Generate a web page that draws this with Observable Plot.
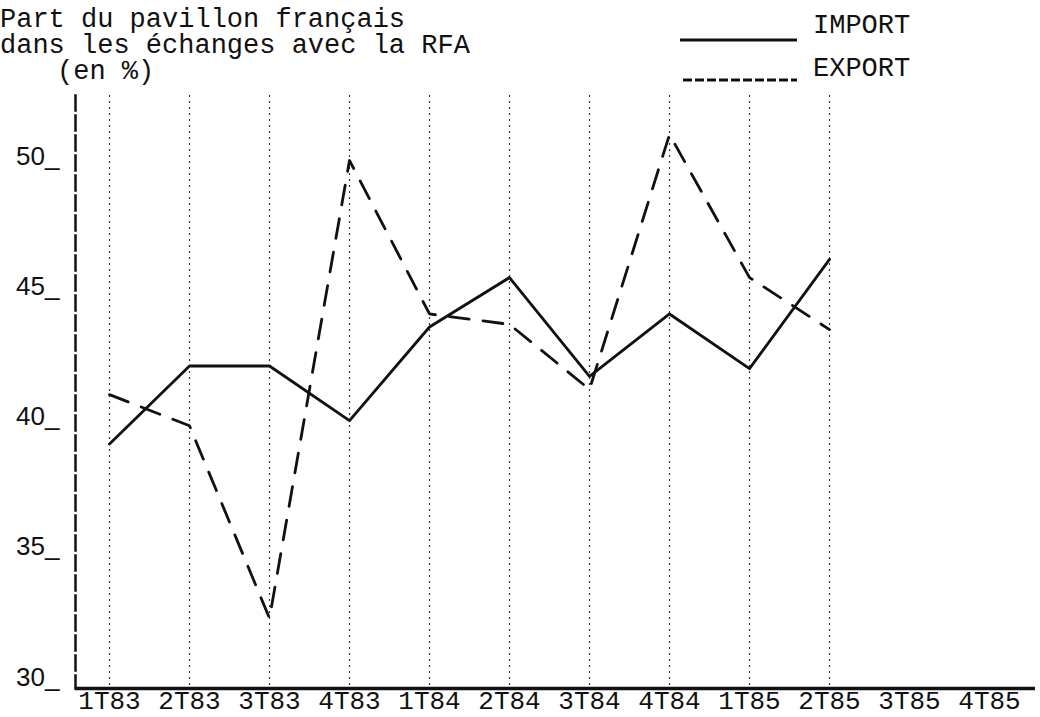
<!DOCTYPE html>
<html>
<head>
<meta charset="utf-8">
<script src="https://cdn.jsdelivr.net/npm/d3@7"></script>
<script src="https://cdn.jsdelivr.net/npm/@observablehq/plot@0.6"></script>
<style>
  html, body { margin: 0; padding: 0; background: #fff; }
  #wrap { position: relative; width: 1040px; height: 717px; overflow: hidden; }
  #overlay { position: absolute; left: 0; top: 0; pointer-events: none; }
  #overlay text { font-family: "Liberation Mono", "DejaVu Sans Mono", monospace; font-size: 27px; fill: #111; }
</style>
</head>
<body>
<div id="wrap">
  <div id="chart"></div>
  <svg id="overlay" width="1040" height="120">
    <text x="0" y="27">Part du pavillon français</text>
    <text x="0" y="53">dans les échanges avec la RFA</text>
    <text x="57" y="79">(en %)</text>
    <line x1="680" x2="797" y1="40" y2="40" stroke="#111" stroke-width="3"></line>
    <text x="813" y="33">IMPORT</text>
    <line x1="683" x2="797" y1="80" y2="80" stroke="#111" stroke-width="3" stroke-dasharray="9,3"></line>
    <text x="813" y="76">EXPORT</text>
  </svg>
</div>
<script>
// Categories (quarters)
const quarters = ["1T83","2T83","3T83","4T83","1T84","2T84","3T84","4T84","1T85","2T85","3T85","4T85"];
// Quarters with data
const dataQuarters = ["1T83","2T83","3T83","4T83","1T84","2T84","3T84","4T84","1T85","2T85"];
// Series values (% share of French flag)
const importValues = [39.4, 42.4, 42.4, 40.3, 43.9, 45.8, 42.0, 44.4, 42.3, 46.5];
const exportValues = [41.3, 40.1, 32.7, 50.3, 44.4, 44.0, 41.5, 51.3, 45.8, 43.8];
// Y tick labels
const yTicks = [30, 35, 40, 45, 50];
const yDomain = [30, 52.8];

const importData = dataQuarters.map((q, i) => ({quarter: q, value: importValues[i]}));
const exportData = dataQuarters.map((q, i) => ({quarter: q, value: exportValues[i]}));

const chart = Plot.plot({
  width: 1040,
  height: 717,
  marginLeft: 75,
  marginRight: 5,
  marginTop: 95,
  marginBottom: 29,
  style: {fontFamily: "Liberation Mono, DejaVu Sans Mono, monospace", fontSize: "26px", color: "#111", background: "#fff"},
  x: {type: "point", domain: quarters, range: [107, 990], padding: 0},
  y: {domain: yDomain},
  marks: [
    Plot.ruleX(dataQuarters, {stroke: "#333", strokeWidth: 1.2, strokeDasharray: "2,4"}),
    Plot.frame({anchor: "left", stroke: "#111", strokeWidth: 2.5, strokeDasharray: "15,5"}),
    Plot.ruleY([30], {stroke: "#111", strokeWidth: 3.5}),
    Plot.line(importData, {x: "quarter", y: "value", stroke: "#111", strokeWidth: 2.8}),
    Plot.line(exportData, {x: "quarter", y: "value", stroke: "#111", strokeWidth: 2.8, strokeDasharray: "20,14"}),
    Plot.axisX({ticks: quarters, tickSize: 0, tickPadding: 2, fontSize: 26, label: null}),
    Plot.axisY({ticks: yTicks, tickSize: 0, tickPadding: 16, tickFormat: d => d + "_", fontFamily: "Liberation Sans, Arial, sans-serif", fontSize: 26, lineAnchor: "bottom", dy: -3, label: null})
  ]
});
document.getElementById("chart").appendChild(chart);
</script>
</body>
</html>
